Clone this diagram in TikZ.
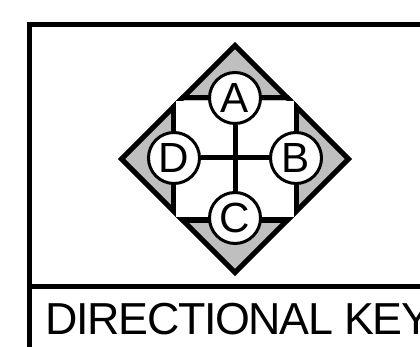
\documentclass[tikz,border=0pt]{standalone}
\usepackage{fontspec}
\setmainfont{Liberation Sans}
\begin{document}
\begin{tikzpicture}[line join=miter,
          frameline/.style={line width=0.1cm},
          keyline/.style={line width=0.1cm},
          dirkey/.style={draw, circle, fill=white, line width=0.06cm, minimum size=1.02cm, inner sep=0pt, font=\fontsize{24pt}{24pt}\selectfont}]
        \useasboundingbox (0,0) rectangle (8.4,6.94);
        \coordinate (fb) at (0.59,0);
        \coordinate (ftl) at (0.59,6.45);
        \coordinate (ftr) at (8.4,6.45);
        \coordinate (dl) at (0.59,1.21);
        \coordinate (dr) at (8.4,1.21);
        \draw[frameline] (fb) -- (ftl) -- (ftr);
        \draw[frameline] (dl) -- (dr);
        % diamond, its square clipped to the outer edge
        \draw[keyline, fill=black!25] (4.70,6.03) -- (6.97,3.76) -- (4.70,1.49) -- (2.43,3.76) -- cycle;
        \begin{scope}
          \clip (4.70,6.10) -- (7.04,3.76) -- (4.70,1.42) -- (2.36,3.76) -- cycle;
          \draw[line width=0.11cm] (3.475,2.535) rectangle (5.925,4.985);
        \end{scope}
        \fill[white] (3.525,2.60) rectangle (5.875,4.92);
        \node[dirkey] (keya) at (4.70,4.98) {A};
        \node[dirkey] (keyb) at (5.92,3.78) {B};
        \node[dirkey] (keyc) at (4.70,2.58) {C};
        \node[dirkey] (keyd) at (3.48,3.78) {D};
        \draw[keyline] (keya) -- (keyc);
        \draw[keyline] (keyd) -- (keyb);
        \node[anchor=base west, inner sep=0pt, font=\fontsize{25.5pt}{25.5pt}\selectfont\addfontfeature{LetterSpace=-3}] (title) at (0.9,0.24) {DIRECTIONAL KEY};
      \end{tikzpicture}
\end{document}
